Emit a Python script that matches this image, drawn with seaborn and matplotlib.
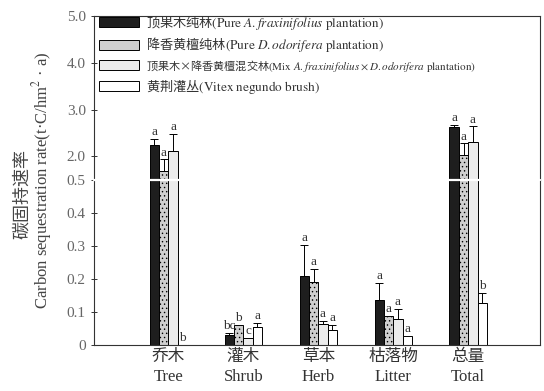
import numpy as np
import pandas as pd
import matplotlib
matplotlib.use("Agg")
import matplotlib.pyplot as plt
from matplotlib.font_manager import FontProperties
import seaborn as sns

# data
parts = ["乔木\nTree", "灌木\nShrub", "草本\nHerb", "枯落物\nLitter", "总量\nTotal"]
stands = [
    "顶果木纯林$\\mathrm{(Pure}\\ \\mathit{A.fraxinifolius}\\ \\mathrm{plantation)}$",
    "降香黄檀纯林$\\mathrm{(Pure}\\ \\mathit{D.odorifera}\\ \\mathrm{plantation)}$",
    "顶果木×降香黄檀混交林$\\mathrm{(Mix}\\ \\mathit{A.fraxinifolius}\\times\\mathit{D.odorifera}\\ \\mathrm{plantation)}$",
    "黄荆灌丛$\\mathrm{(Vitex\\ negundo\\ brush)}$",
]
pure_af = [2.24, 0.030, 0.209, 0.136, 2.62]
pure_do = [1.68, 0.060, 0.191, 0.088, 2.04]
mixed = [2.11, 0.021, 0.064, 0.079, 2.30]
vitex = [0.0, 0.055, 0.045, 0.027, 0.127]
err_af = [0.14, 0.006, 0.094, 0.052, 0.06]
err_do = [0.26, 0.0, 0.040, 0.0, 0.24]
err_mx = [0.38, 0.0, 0.009, 0.030, 0.34]
err_vx = [0.0, 0.012, 0.015, 0.0, 0.031]
letters_af = ["a", "bc", "a", "a", "a"]
letters_do = ["a", "b", "a", "a", "a"]
letters_mx = ["a", "c", "a", "a", "a"]
letters_vx = ["b", "a", "a", "a", "b"]

values = [pure_af, pure_do, mixed, vitex]
errors = [err_af, err_do, err_mx, err_vx]
letters = [letters_af, letters_do, letters_mx, letters_vx]

df = pd.DataFrame({
    "part": parts * 4,
    "stand": [s for s in stands for _ in parts],
    "rate": sum(values, []),
})

sns.set_style("ticks")
plt.rcParams["font.family"] = ["Liberation Serif", "Noto Sans CJK SC"]
plt.rcParams["mathtext.fontset"] = "stix"
plt.rcParams["hatch.linewidth"] = 0.5
plt.rcParams["axes.edgecolor"] = "#333333"
plt.rcParams["axes.linewidth"] = 0.8

colors = ["#1e1e1e", "#cfcfcf", "#ececec", "#ffffff"]
hatches = [None, "....", None, None]

fig = plt.figure(figsize=(5.44, 3.91), dpi=100)
ax_hi = fig.add_axes([0.173, 0.540, 0.820, 0.419])
ax_lo = fig.add_axes([0.173, 0.118, 0.820, 0.422])

split = 0.5
for ax in (ax_hi, ax_lo):
    sns.barplot(data=df, x="part", y="rate", hue="stand", hue_order=stands,
                palette=colors, width=0.5, errorbar=None, ax=ax,
                edgecolor="black", linewidth=0.7, saturation=1)
    bar_containers = list(ax.containers)
    for k, container in enumerate(bar_containers):
        for i, bar in enumerate(container.patches):
            if hatches[k]:
                bar.set_hatch(hatches[k])
            xc = bar.get_x() + bar.get_width() / 2
            top = values[k][i]
            err = errors[k][i]
            if err > 0:
                ax.errorbar(xc, top, yerr=[[0], [err]], fmt="none", ecolor="black",
                            elinewidth=0.7, capsize=3, capthick=0.7)
            on_hi = top > 1.0
            if (ax is ax_hi) == on_hi:
                ax.annotate(letters[k][i], (xc, top + err), xytext=(0, 0.5),
                            textcoords="offset points", ha="center", va="bottom",
                            fontsize=9.5, color="#333333")
    ax.set_xlim(-0.99, 4.96)
    ax.set_xlabel("")
    ax.set_ylabel("")
    ax.tick_params(axis="y", direction="inout", length=5, width=0.7,
                   labelsize=11, labelcolor="#666666", color="#333333")

ax_hi.set_ylim(1.5, 5.0)
ax_hi.set_yticks([2, 3, 4, 5])
ax_hi.set_yticklabels(["2.0", "3.0", "4.0", "5.0"])
ax_hi.spines["bottom"].set_visible(False)
ax_hi.tick_params(axis="x", bottom=False, labelbottom=False)

ax_lo.set_ylim(0, split)
ax_lo.set_yticks([0, 0.1, 0.2, 0.3, 0.4, 0.5])
ax_lo.set_yticklabels(["0", "0.1", "0.2", "0.3", "0.4", "0.5"])
ax_lo.spines["top"].set_visible(False)
ax_lo.tick_params(axis="x", direction="in", length=4, width=0.7,
                  labelsize=12, labelcolor="#333333", pad=3)
for lbl in ax_lo.get_xticklabels():
    lbl.set_linespacing(1.3)
ax_lo.axhline(split, color="white", lw=1.6, zorder=5, clip_on=False)

ax_lo.legend_.remove()
handles, labels = ax_hi.get_legend_handles_labels()
leg = ax_hi.legend(handles, labels, loc="upper left", bbox_to_anchor=(0.005, 1.035),
                   frameon=False, prop=FontProperties(family="Noto Sans CJK SC", size=9.5),
                   handlelength=3.0, handleheight=0.8, handletextpad=0.6,
                   labelspacing=0.25, borderaxespad=0.0, borderpad=0.2)
for t in leg.get_texts():
    t.set_color("#333333")
leg.get_texts()[2].set_fontsize(8)

fig.text(0.042, 0.505, "碳固持速率", rotation=90, ha="center", va="center",
         fontsize=13, color="#444444")
fig.text(0.077, 0.54, "Carbon sequestration rate(t·C/hm$^{2}$ · a)", rotation=90,
         ha="center", va="center", fontsize=12, color="#444444")

fig.savefig("out.png", dpi=100)
